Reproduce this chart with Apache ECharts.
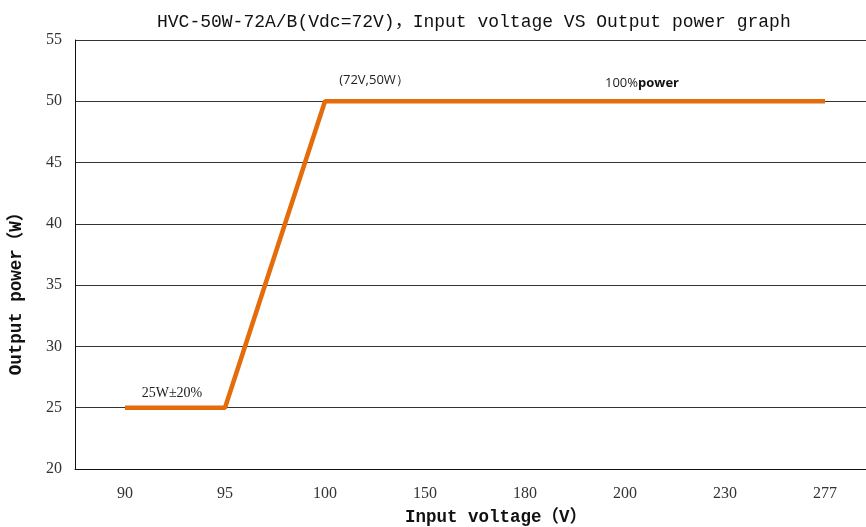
<!DOCTYPE html>
<html><head><meta charset="utf-8">
<script src="https://cdn.jsdelivr.net/npm/echarts@6/dist/echarts.min.js"></script>
<style>html,body{margin:0;padding:0;background:#fff}#c{width:866px;height:527px}</style>
</head><body><div id="c"></div>
<script>
const titleText = 'HVC-50W-72A/B(Vdc=72V)，Input voltage VS Output power graph';
const categories = ['90', '95', '100', '150', '180', '200', '230', '277'];
const powerValues = [25, 25, 50, 50, 50, 50, 50, 50];
const yTicks = { min: 20, max: 55, interval: 5 };
const annotations = [
  { coord: ['100', 50], text: '(72V,50W\uFF09', offset: [49, -21] },
  { coord: ['200', 50], text: '100%{b|power}', offset: [17, -18] },
  { coord: ['90', 25], text: '25W\u00B120%', offset: [47, -14], serif: true }
];
const serif = '"Liberation Serif", "DejaVu Serif", serif';
const mono = '"Liberation Mono", "Noto Sans CJK SC", monospace';
const sans = '"Open Sans", "Liberation Sans", sans-serif';
const chart = echarts.init(document.getElementById('c'));
chart.setOption({
  animation: false,
  title: {
    text: titleText, left: 152, top: 8,
    textStyle: { fontFamily: mono, fontSize: 18, fontWeight: 'normal', color: '#111' }
  },
  grid: { left: 75, top: 40, width: 800, bottom: 58, outerBoundsMode: 'none', containLabel: false },
  xAxis: {
    type: 'category', data: categories, boundaryGap: true,
    name: 'Input voltage\uFF08V\uFF09', nameLocation: 'middle', nameGap: 40,
    nameTextStyle: { fontFamily: mono, fontSize: 17.5, fontWeight: 'bold', color: '#111', padding: [0, 0, 0, 42] },
    axisLine: { lineStyle: { color: '#111', width: 1 } },
    axisTick: { show: false },
    axisLabel: { fontFamily: serif, fontSize: 16, color: '#333', margin: 17 }
  },
  yAxis: {
    type: 'value', min: yTicks.min, max: yTicks.max, interval: yTicks.interval,
    name: 'Output power\uFF08W\uFF09', nameLocation: 'middle', nameGap: 50,
    nameTextStyle: { fontFamily: mono, fontSize: 17.5, fontWeight: 'bold', color: '#111', padding: [0, 70, 0, 0] },
    axisLine: { show: true, lineStyle: { color: '#111', width: 1 } },
    axisTick: { show: false },
    axisLabel: { fontFamily: serif, fontSize: 16, color: '#333', margin: 13 },
    splitLine: { lineStyle: { color: '#333', width: 1 } }
  },
  series: [{
    type: 'line', data: powerValues, symbol: 'none',
    lineStyle: { color: '#E46C0A', width: 4.5 },
    markPoint: {
      symbol: 'circle', symbolSize: 0, silent: true,
      data: annotations.map(a => ({
        coord: a.coord,
        label: {
          show: true, formatter: a.text, offset: a.offset, position: 'inside',
          fontFamily: a.serif ? serif : sans,
          fontSize: a.serif ? 14 : 13, color: '#222',
          rich: { b: { fontFamily: sans, fontSize: 13, fontWeight: 'bold', color: '#111' } }
        }
      }))
    }
  }]
});
</script></body></html>
